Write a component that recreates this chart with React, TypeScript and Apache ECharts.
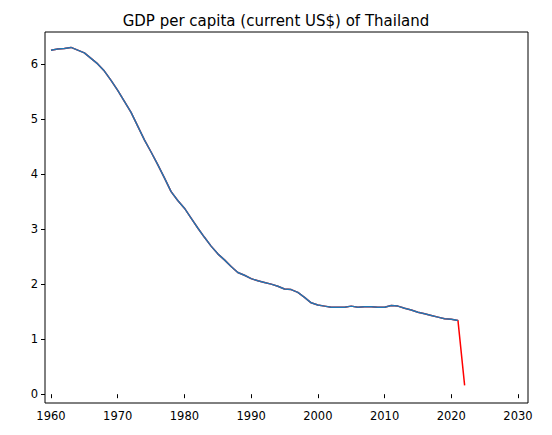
import React, { useEffect, useRef } from "react";
import * as echarts from "echarts";

const years = Array.from({ length: 63 }, (_, i) => 1960 + i);
const values = [
  6.25, 6.27, 6.28, 6.3, 6.25, 6.2, 6.1, 6.0, 5.87, 5.7,
  5.52, 5.32, 5.12, 4.87, 4.62, 4.4, 4.17, 3.93, 3.68, 3.52,
  3.38, 3.2, 3.02, 2.85, 2.69, 2.55, 2.44, 2.32, 2.21, 2.16,
  2.1, 2.06, 2.03, 2.0, 1.96, 1.91, 1.9, 1.85, 1.76, 1.66,
  1.62, 1.6, 1.58, 1.58, 1.58, 1.6, 1.58, 1.59, 1.59, 1.58,
  1.58, 1.61, 1.6, 1.56, 1.53, 1.49, 1.46, 1.43, 1.4, 1.37,
  1.36, 1.34, 0.16,
];
const xTicks = [1960, 1970, 1980, 1990, 2000, 2010, 2020, 2030];
const yTicks = [0, 1, 2, 3, 4, 5, 6];

export default function App() {
  const ref = useRef<HTMLDivElement>(null);

  useEffect(() => {
    const chart = echarts.init(ref.current!, null, { renderer: "svg" });
    const all = years.map((y, i) => [y, values[i]]);
    const blue = all.slice(0, all.length - 1);
    const font = "DejaVu Sans";
    chart.setOption({
      animation: false,
      title: {
        text: "GDP per capita (current US$) of Thailand",
        left: "center",
        top: 0,
        textStyle: { fontFamily: font, fontSize: 15, fontWeight: "normal", color: "#000" },
      },
      grid: { left: 37, right: 16, top: 24, bottom: 24, show: true, borderColor: "#000", borderWidth: 1 },
      xAxis: {
        type: "value",
        min: 1959.1,
        max: 2031.5,
        splitLine: { show: false },
        axisLine: { show: false },
        axisTick: { show: true, customValues: xTicks, length: 4, lineStyle: { color: "#000" } },
        axisLabel: {
          customValues: xTicks,
          formatter: (v: number) => String(v),
          color: "#000",
          fontFamily: font,
          fontSize: 11.5,
          margin: 7,
        },
      },
      yAxis: {
        type: "value",
        min: -0.16,
        max: 6.58,
        splitLine: { show: false },
        axisLine: { show: false },
        axisTick: { show: true, customValues: yTicks, length: 4, lineStyle: { color: "#000" } },
        axisLabel: {
          customValues: yTicks,
          formatter: (v: number) => String(v),
          color: "#000",
          fontFamily: font,
          fontSize: 11.5,
          margin: 7,
        },
      },
      series: [
        { type: "line", data: all, showSymbol: false, lineStyle: { color: "#ff0000", width: 1.5 } },
        { type: "line", data: blue, showSymbol: false, lineStyle: { color: "#1f77b4", width: 1.5 } },
      ],
    });
    return () => chart.dispose();
  }, []);

  return <div ref={ref} style={{ width: 536, height: 419 }} />;
}
